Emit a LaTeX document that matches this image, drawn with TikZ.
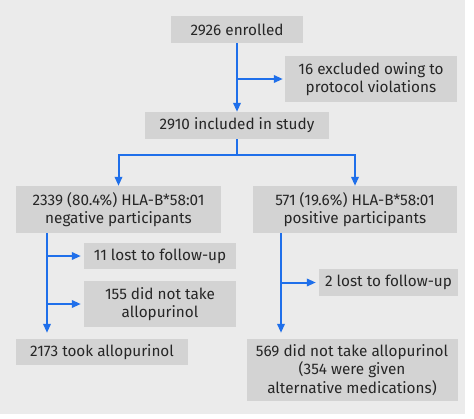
\documentclass[tikz,border=0pt]{standalone}
\usepackage{fontspec}
\setmainfont{Fira Sans}
\usetikzlibrary{arrows.meta}
\definecolor{bgGrey}{HTML}{EBEBEB}
\definecolor{boxGrey}{HTML}{D3D3D3}
\definecolor{flowBlue}{HTML}{1F6FEA}
\begin{document}
\begin{tikzpicture}[x=1pt,y=-1pt,font=\fontsize{15.3}{18.5}\selectfont,
  flow/.style={-{Triangle[length=9pt,width=7.5pt]},line width=2pt,draw=flowBlue},
  stage/.style={fill=boxGrey,inner sep=0pt,align=center,text=black!85}]
\useasboundingbox (0,0) rectangle (474,418);
\fill[white] (0,0) rectangle (474,418);
\fill[bgGrey] (0,0) rectangle (465,414);
% boxes
\node[stage,minimum width=132pt,minimum height=27pt] (enrolled) at (237,29.5) {2926 enrolled};
\node[stage,minimum width=172pt,minimum height=46pt] (excluded) at (371,79) {16 excluded owing to\\protocol violations};
\node[stage,minimum width=184pt,minimum height=27pt] (included) at (237,125.5) {2910 included in study};
\node[stage,minimum width=205pt,minimum height=47pt] (neg) at (118.5,209.5) {2339 (80.4\%) HLA-B*58:01\\negative participants};
\node[stage,minimum width=204pt,minimum height=47pt] (pos) at (355,209.5) {571 (19.6\%) HLA-B*58:01\\positive participants};
\node[stage,minimum width=152pt,minimum height=26pt] (lostneg) at (160,256) {11 lost to follow-up};
\node[stage,minimum width=152pt,minimum height=46pt] (notookneg) at (160,304) {155 did not take\\allopurinol};
\node[stage,minimum width=172pt,minimum height=26pt] (took) at (102,352) {2173 took allopurinol};
\node[stage,minimum width=139pt,minimum height=27pt] (lostpos) at (388.5,282.5) {2 lost to follow-up};
\node[stage,minimum width=211pt,minimum height=62pt] (notookpos) at (352,370) {569 did not take allopurinol\\(354 were given\\alternative medications)};
% trunks
\coordinate (negline) at (47,0);
\coordinate (posline) at (281,0);
% arrows
\draw[flow] (enrolled.south) -- (included.north);
\draw[flow,shorten >=2pt] (enrolled.south |- excluded.west) -- (excluded.west);
\draw[flow] (included.south) -- ++(0,16) -| (neg.north);
\draw[flow] (included.south) -- ++(0,16) -| (pos.north);
\draw[flow,shorten >=6pt] (neg.south -| negline) -- (took.north -| negline);
\draw[flow,shorten >=3pt] (lostneg.west -| negline) -- (lostneg.west);
\draw[flow,shorten >=3pt] (notookneg.west -| negline) -- (notookneg.west);
\draw[flow,shorten >=6pt] (pos.south -| posline) -- (notookpos.north -| posline);
\draw[flow,shorten >=3pt] (lostpos.west -| posline) -- (lostpos.west);
\end{tikzpicture}
\end{document}
